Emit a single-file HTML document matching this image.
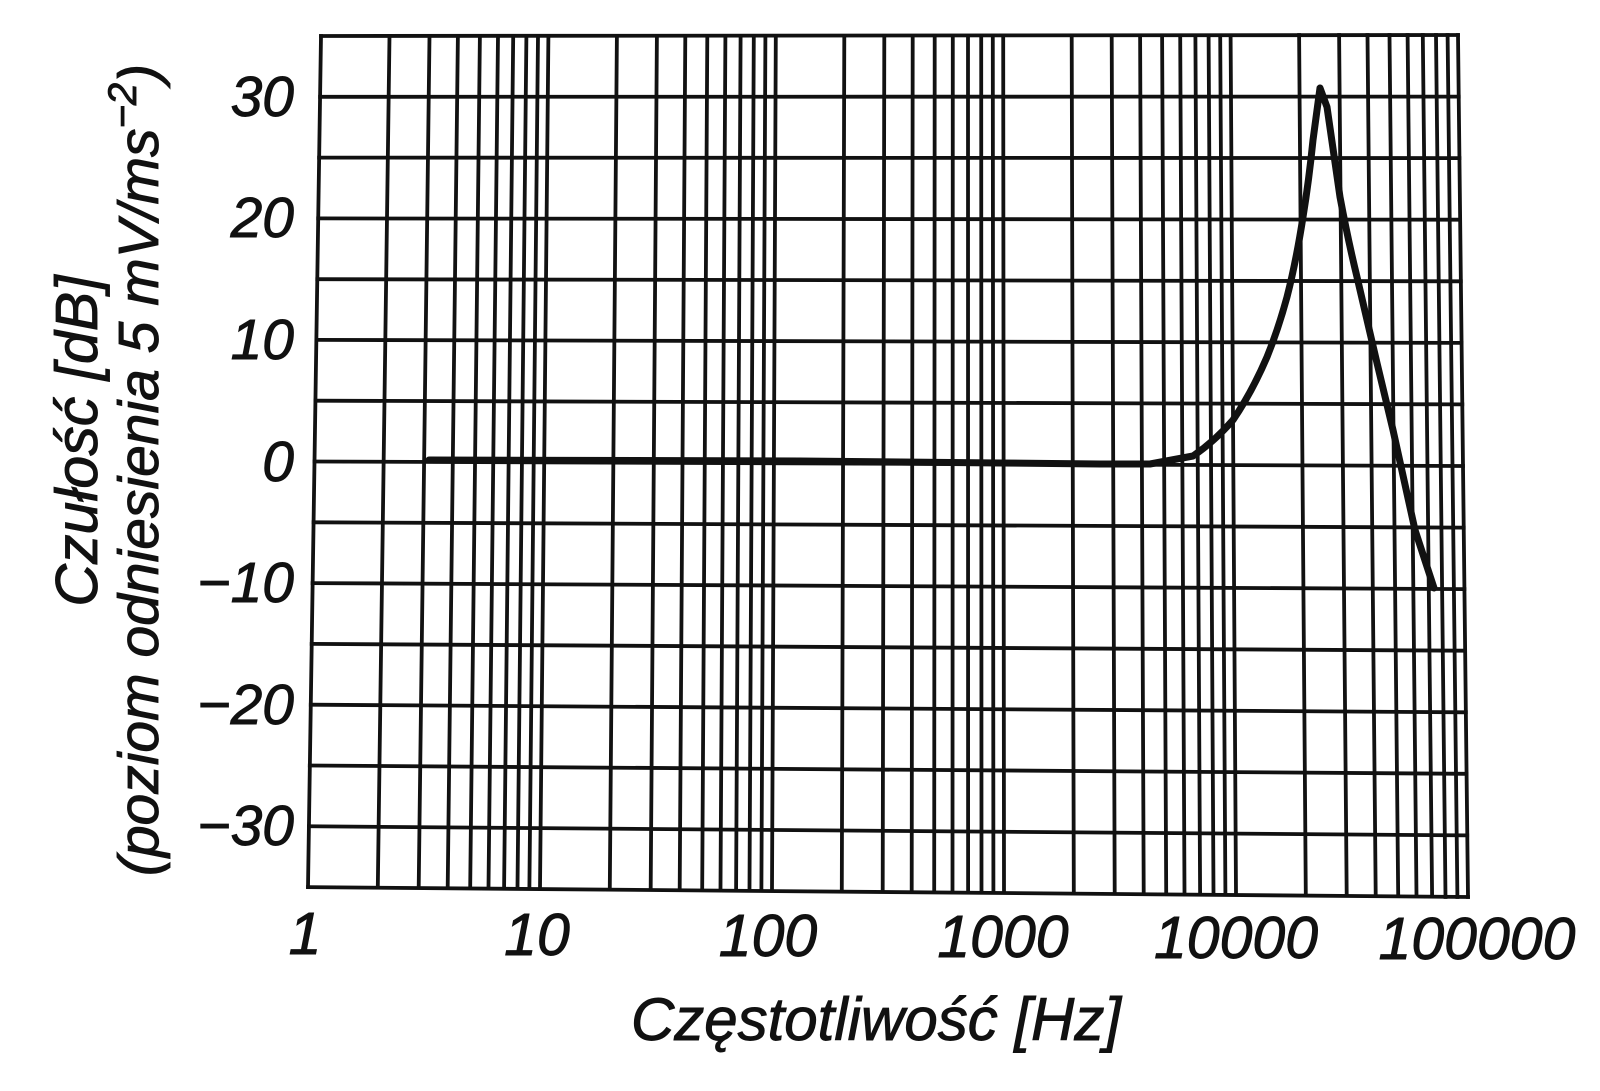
<!DOCTYPE html>
<html><head><meta charset="utf-8"><style>
html,body{margin:0;padding:0;background:#fff;}
svg{display:block}
text{font-family:"Liberation Sans",sans-serif;font-style:italic;fill:#111;stroke:#111;stroke-width:0.9;}
</style></head><body>
<svg width="1600" height="1091" viewBox="0 0 1600 1091" xmlns="http://www.w3.org/2000/svg">
<g stroke="#111" stroke-width="3.8" fill="none" stroke-linecap="square">
<path d="M321 36L1458 35M320.1 96.8L1458.7 96.6M319.1 157.6L1459.4 158.1M318.2 218.4L1460.1 219.7M317.3 279.2L1460.8 281.3M316.4 339.9L1461.6 342.9M315.4 400.7L1462.3 404.4M314.5 461.5L1463 466M313.6 522.3L1463.7 527.6M312.6 583.1L1464.4 589.1M311.7 643.9L1465.1 650.7M310.8 704.7L1465.8 712.3M309.8 765.5L1466.5 773.8M308.9 826.3L1467.2 835.4M308 887.1L1468 897"/>
<path d="M321 36L308 887M389.5 36L377.8 887M429.5 36L418.7 887M457.9 36L447.7 887M479.9 36L470.2 887M498 36L488.5 887M513.2 36L504.1 887M526.4 36L517.5 887M538 36L529.4 887
M548.4 36L540 888M616.9 36L609.8 888M656.9 36L650.7 888M685.3 36L679.7 888M707.3 36L702.2 888M725.4 36L720.5 888M740.6 36L736.1 888M753.8 36L749.5 888M765.4 36L761.4 889
M775.8 36L772 889M844.3 36L841.8 889M884.3 36L882.7 890M912.7 36L911.7 890M934.7 36L934.2 890M952.8 36L952.5 890M968 36L968.1 891M981.2 36L981.5 891M992.8 36L993.4 891
M1003.2 35.5L1004 891M1071.7 35.5L1073.8 892M1111.7 35.5L1114.7 892M1140.1 35.5L1143.7 892M1162.1 35.5L1166.2 893M1180.2 35.5L1184.5 893M1195.4 35.5L1200.1 893M1208.6 35.5L1213.5 893M1220.2 35.5L1225.4 894
M1230.6 35.5L1236 894M1299.1 35L1305.8 895M1339.1 35L1346.7 895M1367.5 35L1375.7 895M1389.5 35L1398.2 896M1407.6 35L1416.5 896M1422.8 35L1432.1 896M1436 35L1445.5 897M1447.6 35L1457.4 897M1458 35L1468 897"/>
</g>
<path fill="none" stroke="#111" stroke-width="7" stroke-linejoin="round" stroke-linecap="round"
d="M429 460 L800 461 L1000 463 L1100 464 L1150 464 L1193 456 Q1215 441 1233 420 Q1252 392 1267 357 Q1278 330 1287 297 Q1296 262 1303 217 Q1309 180 1313 140 L1320 88 L1327 107 L1340 197 Q1348 240 1357 277 L1377 363 L1393 430 L1415 530 L1434 588"/>
<g font-size="57" text-anchor="end">
<text x="294" y="116">30</text>
<text x="294" y="237">20</text>
<text x="294" y="359">10</text>
<text x="294" y="481">0</text>
<text x="294" y="602">−10</text>
<text x="294" y="724">−20</text>
<text x="294" y="845">−30</text>
</g>
<g font-size="59" text-anchor="middle">
<text x="305" y="954">1</text>
<text x="537" y="955">10</text>
<text x="768" y="956">100</text>
<text x="1003" y="957">1000</text>
<text x="1236" y="958">10000</text>
<text x="1477" y="959">100000</text>
<text x="876" y="1040" font-size="60">Częstotliwość [Hz]</text>
<text transform="translate(97,441) rotate(-90)" font-size="59">Czułość [dB]</text>
<text transform="translate(158,470) rotate(-90)" font-size="57">(poziom odniesienia 5 mV/ms<tspan dy="-22" font-size="40">−2</tspan><tspan dy="22">)</tspan></text>
</g>
</svg>
</body></html>
